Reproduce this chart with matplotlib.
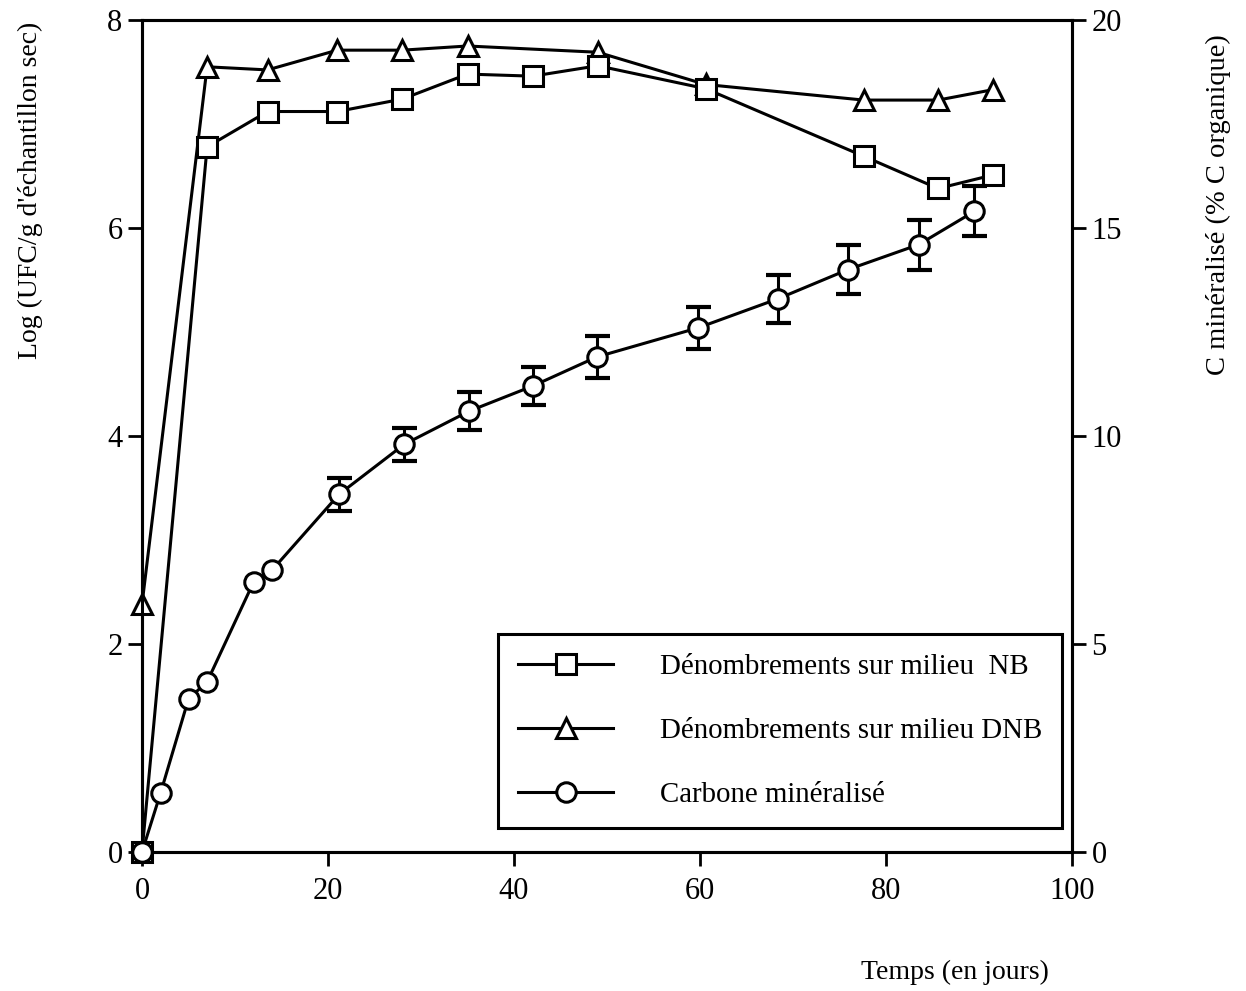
import matplotlib
matplotlib.use("Agg")
import matplotlib.pyplot as plt
from matplotlib.lines import Line2D

plt.rcParams['font.family'] = ['Liberation Serif', 'DejaVu Serif']

# NB counts (log UFC/g)
days_nb = [0, 7, 13.5, 21, 28, 35, 42, 49, 60.6, 77.6, 85.6, 91.5]
log_nb = [0.0, 6.78, 7.12, 7.12, 7.24, 7.48, 7.46, 7.56, 7.34, 6.69, 6.38, 6.51]

# DNB counts (log UFC/g)
days_dnb = [0, 7, 13.5, 21, 28, 35, 49, 60.6, 77.6, 85.6, 91.5]
log_dnb = [2.38, 7.55, 7.52, 7.71, 7.71, 7.75, 7.69, 7.38, 7.23, 7.23, 7.33]

# Mineralised carbon (% organic C)
days_c = [0, 2, 5, 7, 12, 14, 21.2, 28.2, 35.2, 42, 48.9, 59.8, 68.4, 75.9, 83.5, 89.5]
c_min = [0.0, 1.42, 3.68, 4.09, 6.49, 6.78, 8.6, 9.8, 10.6, 11.2, 11.9, 12.6, 13.3, 14.0, 14.6, 15.4]
c_err = [0, 0, 0, 0, 0, 0, 0.4, 0.4, 0.45, 0.45, 0.5, 0.5, 0.58, 0.58, 0.6, 0.6]

fig = plt.figure(figsize=(12.46, 9.91), dpi=100)
ax = fig.add_axes([142/1246, 1-852/991, (1072-142)/1246, (852-20)/991])
ax2 = ax.twinx()

lw = 2.2
ms = 14
ax.plot(days_nb, log_nb, color='black', lw=lw, marker='s', ms=ms, mfc='white',
        mec='black', mew=2.2, zorder=4, clip_on=False)
ax.plot(days_dnb, log_dnb, color='black', lw=lw, marker='^', ms=ms, mfc='white',
        mec='black', mew=2.2, zorder=3, clip_on=False)

# error bars only where an error was drawn
ex = [d for d, e in zip(days_c, c_err) if e > 0]
ey = [v for v, e in zip(c_min, c_err) if e > 0]
ee = [e for e in c_err if e > 0]
ax2.errorbar(ex, ey, yerr=ee, fmt='none', ecolor='black', elinewidth=2.2,
             capsize=9, capthick=3, zorder=2)
ax2.plot(days_c, c_min, color='black', lw=lw, marker='o', ms=ms, mfc='white',
         mec='black', mew=2.2, zorder=3, clip_on=False)

ax.set_xlim(0, 100)
ax.set_ylim(0, 8)
ax2.set_ylim(0, 20)
ax.set_xticks([0, 20, 40, 60, 80, 100])
ax.set_yticks([0, 2, 4, 6, 8])
ax2.set_yticks([0, 5, 10, 15, 20])

for a in (ax, ax2):
    for s in a.spines.values():
        s.set_linewidth(2.2)
ax.tick_params(axis='both', direction='out', length=10, width=2, labelsize=22, pad=4)
ax.tick_params(axis='x', pad=8)
ax2.tick_params(axis='y', direction='out', length=10, width=2, labelsize=22, pad=4)

fig.text(30/1246, 1-190/991, "Log (UFC/g d'échantillon sec)", rotation=90,
         ha='center', va='center', fontsize=20)
fig.text(1218/1246, 1-205/991, "C minéralisé (% C organique)", rotation=90,
         ha='center', va='center', fontsize=20.5)
fig.text(955/1246, 1-972/991, "Temps (en jours)", ha='center', va='center', fontsize=20)

handles = [
    Line2D([], [], color='black', lw=lw, marker='s', ms=ms, mfc='white', mec='black', mew=2.2),
    Line2D([], [], color='black', lw=lw, marker='^', ms=ms, mfc='white', mec='black', mew=2.2),
    Line2D([], [], color='black', lw=lw, marker='o', ms=ms, mfc='white', mec='black', mew=2.2),
]
labels = ["Dénombrements sur milieu  NB", "Dénombrements sur milieu DNB", "Carbone minéralisé"]
leg = ax2.legend(handles, labels, loc='lower right', bbox_to_anchor=(1062/1246, 1-828/991),
                 bbox_transform=fig.transFigure, fontsize=20.8, frameon=True, fancybox=False,
                 edgecolor='black', framealpha=1, handlelength=3.3, handletextpad=1.6,
                 labelspacing=1.3, borderpad=0.7, borderaxespad=0)
leg.get_frame().set_linewidth(2.2)

fig.savefig("out.png", dpi=100, facecolor='white')
